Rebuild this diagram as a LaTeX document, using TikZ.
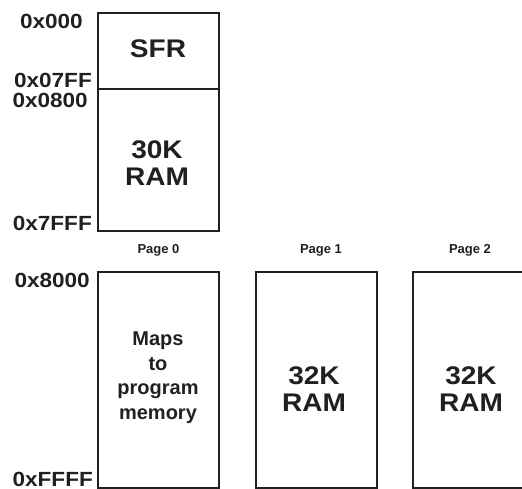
\documentclass[tikz,border=0pt]{standalone}
\usepackage{fontspec}
\setmainfont{Liberation Sans}
\newfontfamily\widefont{Liberation Sans}[FakeStretch=1.1]
\definecolor{ink}{HTML}{231F20}
\begin{document}
\begin{tikzpicture}[x=1pt,y=-1pt,
  box/.style={draw=ink,line width=2pt,inner sep=0pt,outer sep=0pt},
  addr/.style={font={\widefont\bfseries\fontsize{20.5}{24}\selectfont},text=ink,inner sep=0pt,anchor=base east},
  big/.style={font={\widefont\bfseries\fontsize{25.5}{27}\selectfont},align=center,text=ink,inner sep=0pt,anchor=north},
  mid/.style={font={\bfseries\fontsize{20}{24.5}\selectfont},align=center,text=ink,inner sep=0pt,anchor=north},
  pagelbl/.style={font={\bfseries\fontsize{13}{15}\selectfont},text=ink,inner sep=0pt,anchor=base}]
\useasboundingbox (0,0) rectangle (522,489);
\clip (0,0) rectangle (522,489);
% top box
\node[box,minimum width=121pt,minimum height=218pt] (topbox) at (158.5,122) {};
\coordinate (d1) at (98,89);
\coordinate (d2) at (219,89);
\draw[draw=ink,line width=2pt] (d1) -- (d2);
\node[big,anchor=base] (sfr) at (158,58) {SFR};
\node[big] (ram30) at (157,140) {30K\\RAM};
% address labels
\node[addr] (a0) at (83,29) {0x000};
\node[addr] (a1) at (92,88) {0x07FF};
\node[addr] (a2) at (88,108) {0x0800};
\node[addr] (a3) at (92,230) {0x7FFF};
\node[addr] (a4) at (90,287) {0x8000};
\node[addr] (a5) at (93,486) {0xFFFF};
% pages
\node[box,minimum width=121pt,minimum height=215.5pt] (p0) at (158.5,379.75) {};
\node[box,minimum width=121pt,minimum height=215.5pt] (p1) at (316.5,379.75) {};
\node[box,minimum width=121pt,minimum height=215.5pt] (p2) at (473.5,379.75) {};
\node[pagelbl] (l0) at (158.5,254) {Page 0};
\node[pagelbl] (l1) at (321,254) {Page 1};
\node[pagelbl] (l2) at (470,254) {Page 2};
\node[mid] (maps) at (158,332) {Maps\\to\\program\\memory};
\node[big] (ram1) at (314,366) {32K\\RAM};
\node[big] (ram2) at (471,366) {32K\\RAM};
\end{tikzpicture}
\end{document}
